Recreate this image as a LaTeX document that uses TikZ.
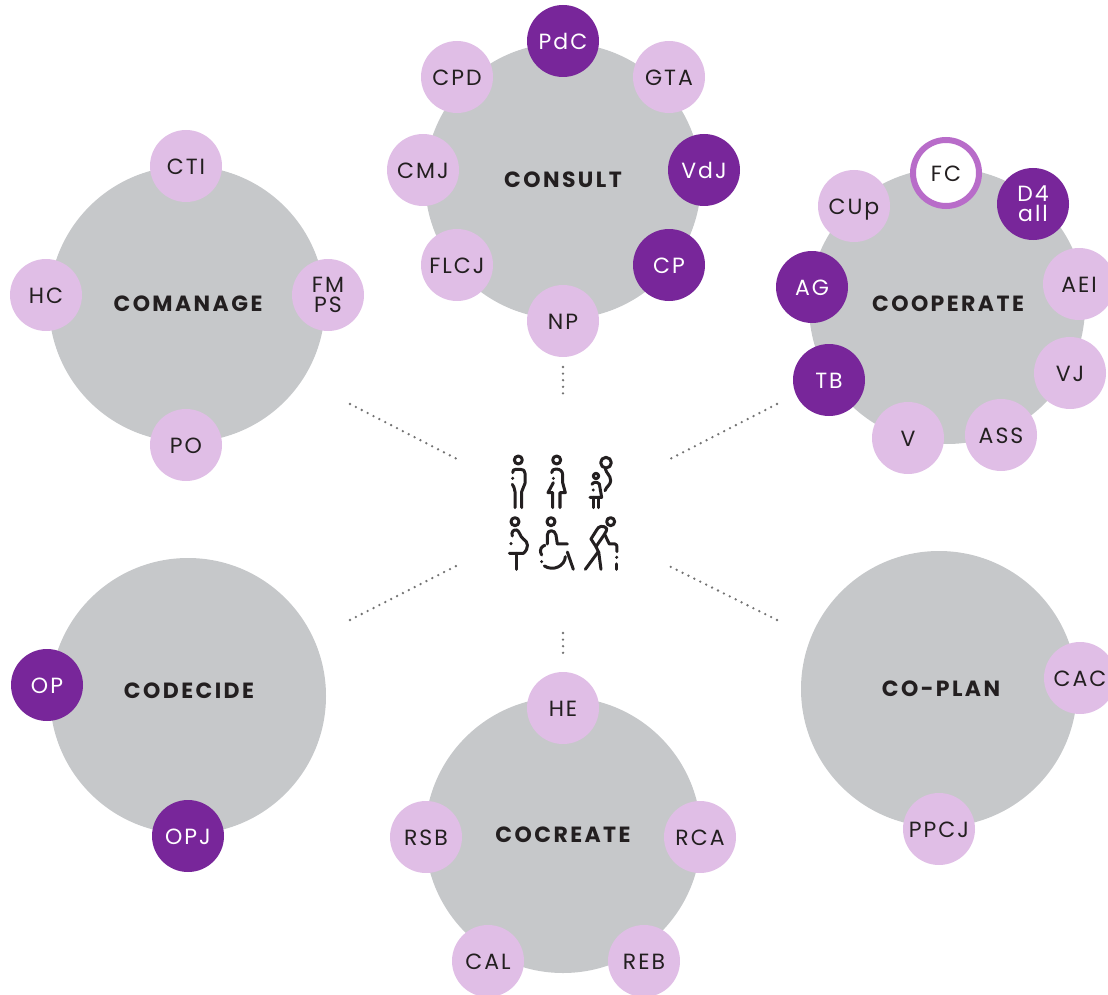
\documentclass[tikz,border=0pt]{standalone}
\usepackage{fontspec}
\setmainfont{Poppins}
\newfontfamily\lab[LetterSpace=9]{Poppins}
\newfontfamily\ttl[LetterSpace=11]{Poppins Bold}
\definecolor{biggrey}{HTML}{C6C8CA}
\definecolor{lilac}{HTML}{E0BEE6}
\definecolor{deep}{HTML}{78269A}
\definecolor{ring}{HTML}{B86CC9}
\definecolor{ink}{HTML}{231F20}
\begin{document}
\begin{tikzpicture}[x=1pt,y=-1pt,
 big/.style={circle,fill=biggrey,minimum size=276pt,inner sep=0pt},
 ttlnode/.style={inner sep=0pt,text=ink,font=\ttl\fontsize{22}{22}\selectfont},
 sm/.style={circle,minimum size=72pt,inner sep=0pt,align=center,font=\lab\fontsize{22}{20}\selectfont},
 one/.style={text height=17pt,text depth=0pt},
 pale/.style={sm,fill=lilac,text=ink,one},
 dark/.style={sm,fill=deep,text=white,one},
 paletwo/.style={sm,fill=lilac,text=ink},
 darktwo/.style={sm,fill=deep,text=white},
 open/.style={circle,minimum size=66pt,inner sep=0pt,fill=white,draw=ring,line width=6pt,text=ink,one,font=\lab\fontsize{22}{20}\selectfont},
 link/.style={draw=black!55,line width=2.6pt,line cap=round,dash pattern=on 0pt off 6.6pt},
 ic/.style={draw=ink,line width=3pt,line cap=round,line join=round}]
\useasboundingbox (0,0) rectangle (1108,995);
\clip (0,0) rectangle (1108,995);
% main circles
\node[big] (comanage) at (187,304) {};
\node[big] (consult) at (563,181) {};
\node[big] (cooperate) at (947,306) {};
\node[big] (codecide) at (188,696) {};
\node[big] (cocreate) at (563,835) {};
\node[big] (coplan) at (939,689) {};
\node[ttlnode] (tcomanage) at (188,304) {COMANAGE};
\node[ttlnode] (tconsult) at (563,180) {CONSULT};
\node[ttlnode] (tcooperate) at (948,304) {COOPERATE};
\node[ttlnode] (tcodecide) at (189,691) {CODECIDE};
\node[ttlnode] (tcocreate) at (563,835) {COCREATE};
\node[ttlnode] (tcoplan) at (941,689) {CO-PLAN};
% comanage
\node[pale] (cti) at (186,166) {CTI};
\node[pale] (hc) at (46,295) {HC};
\node[paletwo] (fm) at (328,295) {FM\\PS};
\node[pale] (po) at (186,445) {PO};
% consult
\node[dark] (pdc) at (563,41) {PdC};
\node[pale] (cpd) at (457,77) {CPD};
\node[pale] (gta) at (669,77) {GTA};
\node[pale] (cmj) at (423,170) {CMJ};
\node[dark] (vdj) at (704,170) {VdJ};
\node[pale] (flcj) at (457,265) {FLCJ};
\node[dark] (cp) at (669,265) {CP};
\node[pale] (np) at (563,321) {NP};
% cooperate
\node[open] (fc) at (946,173) {FC};
\node[pale] (cup) at (854,206) {CUp};
\node[darktwo] (d4) at (1033,204) {D4\\all};
\node[dark] (ag) at (812,287) {AG};
\node[pale] (aei) at (1079,284) {AEI};
\node[dark] (tb) at (829,380) {TB};
\node[pale] (vj) at (1070,373) {VJ};
\node[pale] (v) at (908,438) {V};
\node[pale] (ass) at (1001,435) {ASS};
% codecide
\node[dark] (op) at (47,685) {OP};
\node[dark] (opj) at (188,836) {OPJ};
% cocreate
\node[pale] (he) at (563,708) {HE};
\node[pale] (rsb) at (426,837) {RSB};
\node[pale] (rca) at (700,837) {RCA};
\node[pale] (cal) at (488,961) {CAL};
\node[pale] (reb) at (644,961) {REB};
% coplan
\node[pale] (cac) at (1080,678) {CAC};
\node[pale] (ppcj) at (939,829) {PPCJ};
% dotted connectors
\coordinate (a1) at (350,404); \coordinate (a2) at (457,459);
\coordinate (b1) at (563,367); \coordinate (b2) at (563,394);
\coordinate (c1) at (777,404); \coordinate (c2) at (670,459);
\coordinate (d1) at (350,620); \coordinate (d2) at (458,565);
\coordinate (e1) at (563,633); \coordinate (e2) at (563,659);
\coordinate (f1) at (777,620); \coordinate (f2) at (669,566);
\draw[link] (a1) -- (a2);
\draw[link] (b1) -- (b2);
\draw[link] (c1) -- (c2);
\draw[link] (d1) -- (d2);
\draw[link] (e1) -- (e2);
\draw[link] (f1) -- (f2);
% people icons (coordinates in 3x units)
\begin{scope}[shift={(490,440)},x=0.3333pt,y=-0.3333pt,ic]
 % man
 \draw (85,60) circle (12);
 \draw (68,98) .. controls (68,90) and (72,88) .. (78,88) -- (92,88) .. controls (100,88) and (105,92) .. (105,100) -- (105,130) .. controls (105,140) and (95,145) .. (95,155) -- (95,203);
 \draw (67,133) .. controls (70,140) and (75,145) .. (75,155) -- (75,203);
 \fill[ink] (68,115) circle (5);
 % woman
 \draw (200,60) circle (12);
 \draw (185,98) .. controls (186,90) and (190,87) .. (198,87) .. controls (210,87) and (218,93) .. (218,105) -- (218,128) -- (226,158) -- (210,158) -- (210,203);
 \draw (190,128) -- (174,158) -- (188,158) -- (188,203);
 \fill[ink] (190,115) circle (5);
 % child and balloon
 \draw (348,68) circle (16);
 \draw (346,86) .. controls (348,100) and (362,105) .. (362,122) .. controls (362,135) and (350,138) .. (345,152);
 \draw (318,108) circle (8);
 \draw (306,133) .. controls (310,125) and (322,125) .. (328,132) -- (335,172) -- (300,172);
 \draw (310,172) -- (310,203);
 \draw (325,172) -- (325,203);
 \fill[ink] (310,150) circle (5);
 % pregnant woman
 \draw (75,245) circle (12);
 \draw (67,288) .. controls (62,275) and (72,268) .. (80,270) .. controls (88,272) and (90,290) .. (100,297) .. controls (115,305) and (118,325) .. (100,340) -- (58,340);
 \draw (80,340) -- (80,388);
 \fill[ink] (63,311) circle (5);
 % wheelchair
 \draw (183,245) circle (12);
 \draw (172,312) -- (172,285) .. controls (172,268) and (195,268) .. (198,285) -- (202,312) -- (232,312);
 \draw (155,345) .. controls (145,325) and (158,318) .. (165,316);
 \draw (163,378) .. controls (190,395) and (225,378) .. (226,350);
 \fill[ink] (155,365) circle (5);
 \draw (232,336) -- (250,388);
 % elderly person
 \draw (362,245) circle (12);
 \draw (350,265) .. controls (340,255) and (325,258) .. (320,270) -- (303,297) -- (318,320) -- (342,285) .. controls (348,275) and (352,268) .. (350,265);
 \draw (318,320) -- (325,335) -- (286,388);
 \draw (326,335) -- (333,388);
 \draw (345,285) -- (358,312) -- (375,312) .. controls (380,312) and (381,318) .. (381,322) -- (381,335);
 \fill[ink] (380,352) circle (5);
 \draw (379,372) -- (379,388);
\end{scope}
\end{tikzpicture}
\end{document}
